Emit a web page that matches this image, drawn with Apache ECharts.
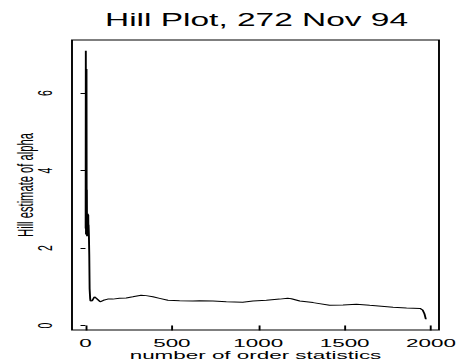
<!DOCTYPE html>
<html>
<head>
<meta charset="utf-8">
<script src="https://cdn.jsdelivr.net/npm/echarts@6/dist/echarts.min.js"></script>
<style>
html,body{margin:0;padding:0;background:#fff;overflow:hidden;width:464px;height:364px;}
#c{width:244px;height:364px;transform:scaleX(1.90164);transform-origin:0 0;}
</style>
</head>
<body>
<div id="c"></div>
<script>
// Hill plot data (order statistic k, Hill estimate)
var orderK = [1,2,3,4,5,6,7,8,9,10,12,14,15,16,17,18,20,22,24,27,29,39,52,66,85,104,129,158,197,236,274,322,351,390,429,477,545,622,660,738,815,910,969,1047,1124,1170,1192,1240,1317,1413,1491,1568,1645,1780,1858,1936,1951,1962,1970];
var hillAlpha = [2.5,7.09,2.35,5.2,2.6,6.62,2.4,3.5,2.3,2.7,2.35,2.88,2.4,2.85,2.45,2.6,2.3,1.8,0.95,0.7,0.63,0.64,0.74,0.69,0.61,0.65,0.68,0.68,0.70,0.71,0.74,0.78,0.77,0.74,0.70,0.65,0.64,0.63,0.64,0.63,0.61,0.60,0.63,0.65,0.68,0.70,0.69,0.63,0.59,0.52,0.53,0.55,0.52,0.47,0.45,0.44,0.40,0.30,0.16];
var xTicks = [0,500,1000,1500,2000];
var yTicks = [0,2,4,6];
var titleText = 'Hill Plot, 272 Nov 94';
var xName = 'number of order statistics';
var yName = 'Hill estimate of alpha';

var data = orderK.map(function(k,i){return [k, hillAlpha[i]];});
var FONT = 'Liberation Sans, Arial, sans-serif';
var chart = echarts.init(document.getElementById('c'), null, {renderer:'svg'});
chart.setOption({
  animation:false,
  backgroundColor:'#fff',
  title:{
    text:titleText, left:134.9, top:10.8, textAlign:'center', padding:0,
    textStyle:{fontFamily:FONT, fontSize:17.6, fontWeight:'normal', color:'#000'}
  },
  grid:{left:37.86, right:13.15, top:40, bottom:34, containLabel:false, outerBoundsMode:'none',
        show:true, borderColor:'#000', borderWidth:1, backgroundColor:'transparent'},
  xAxis:{
    type:'value', min:-78, max:2046,
    name:xName, nameLocation:'middle', nameGap:19.5, nameMoveOverlap:false,
    nameTextStyle:{fontFamily:FONT, fontSize:11.8, color:'#000'},
    axisLine:{show:false},
    axisTick:{show:true, customValues:xTicks, length:5, lineStyle:{color:'#000', width:1}},
    axisLabel:{customValues:xTicks, margin:6.6, fontFamily:FONT, fontSize:11.8, color:'#000',
               formatter:function(v){return String(v);}},
    splitLine:{show:false}
  },
  yAxis:{
    type:'value', min:-0.117, max:7.367,
    name:yName, nameLocation:'middle', nameGap:18.5, nameRotate:90, nameMoveOverlap:false,
    nameTextStyle:{fontFamily:FONT, fontSize:11.2, color:'#000'},
    axisLine:{show:false},
    axisTick:{show:true, customValues:yTicks, length:2.6, lineStyle:{color:'#000', width:1}},
    axisLabel:{customValues:yTicks, rotate:90, margin:8.5, fontFamily:FONT, fontSize:10.5, color:'#000',
               formatter:function(v){return String(v);}},
    splitLine:{show:false}
  },
  series:[{
    type:'line', data:data, showSymbol:false, symbol:'none',
    lineStyle:{color:'#000', width:1}, silent:true
  }]
});
</script>
</body>
</html>
